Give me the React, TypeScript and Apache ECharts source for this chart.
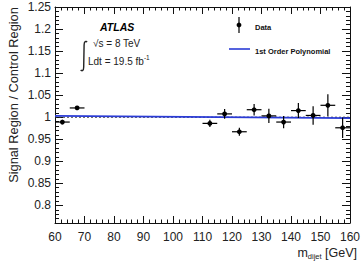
import React, { useEffect, useRef } from "react";
import * as echarts from "echarts";

const binCenters = [62.5, 67.5, 112.5, 117.5, 122.5, 127.5, 132.5, 137.5, 142.5, 147.5, 152.5, 157.5];
const ratios = [0.989, 1.021, 0.986, 1.0075, 0.967, 1.017, 1.003, 0.989, 1.015, 1.004, 1.027, 0.976];
const ratioErrors = [0.005, 0.004, 0.008, 0.011, 0.009, 0.013, 0.016, 0.014, 0.017, 0.021, 0.025, 0.023];
const binHalfWidth = 2.5;
const fitX = [60, 160];
const fitY = [1.003, 0.998];
const unityX = [60, 160];
const unityY = [1.0, 1.0];
const yMajorTicks = [0.8, 0.85, 0.9, 0.95, 1.0, 1.05, 1.1, 1.15, 1.2, 1.25];

const FONT = "Liberation Sans, Arial, Helvetica, sans-serif";
const Y_MIN = 0.76;
const Y_MAX = 1.25;

let registered = false;
function registerIntegral() {
  if (registered) return;
  registered = true;
  const d = "M6.5 1.2 C5.5 -0.3 3.6 0.2 3.6 4 L3.2 26 C3.2 29.8 1.3 30.6 0.3 28.8";
  echarts.graphic.registerShape("integralSign", echarts.graphic.extendPath(d, {}));
}

export default function App() {
  const ref = useRef<HTMLDivElement>(null);
  useEffect(() => {
    if (!ref.current) return;
    registerIntegral();
    const chart = echarts.init(ref.current, null, { renderer: "svg" });
    const axisColor = "#111";
    const baseY = {
      type: "value" as const,
      min: Y_MIN,
      max: Y_MAX,
      splitLine: { show: false },
    };
    const option: any = {
      animation: false,
      backgroundColor: "#fff",
      grid: { left: 55, right: 6, top: 7, bottom: 40, containLabel: false },
      xAxis: [
        {
          type: "value",
          min: 60,
          max: 160,
          interval: 10,
          position: "bottom",
          axisLine: { show: true, lineStyle: { color: axisColor, width: 1 } },
          axisTick: { show: true, inside: true, length: 7, lineStyle: { color: axisColor } },
          minorTick: { show: true, splitNumber: 5, length: 3.5, lineStyle: { color: axisColor } },
          axisLabel: { color: "#222", fontSize: 12, fontFamily: FONT, margin: 8, showMaxLabel: true },
          splitLine: { show: false },
          minorSplitLine: { show: false },
        },
        {
          type: "value",
          min: 60,
          max: 160,
          interval: 10,
          position: "top",
          axisLine: { show: true, lineStyle: { color: axisColor, width: 1 } },
          axisTick: { show: true, inside: true, length: 7, lineStyle: { color: axisColor } },
          minorTick: { show: true, splitNumber: 5, length: 3.5, lineStyle: { color: axisColor } },
          axisLabel: { show: false },
          splitLine: { show: false },
        },
      ],
      yAxis: [
        {
          ...baseY,
          position: "left",
          axisLine: { show: true, lineStyle: { color: axisColor, width: 1 } },
          axisTick: { show: true, inside: true, length: 8, customValues: yMajorTicks, lineStyle: { color: axisColor } },
          axisLabel: {
            color: "#222",
            fontSize: 12,
            fontFamily: FONT,
            margin: 4,
            customValues: yMajorTicks,
            formatter: (v: number) => String(parseFloat(v.toFixed(2))),
          },
        },
        {
          ...baseY,
          position: "left",
          interval: 0.01,
          axisLine: { show: false },
          axisTick: { show: true, inside: true, length: 4, lineStyle: { color: axisColor } },
          axisLabel: { show: false },
        },
        {
          ...baseY,
          position: "right",
          axisLine: { show: true, lineStyle: { color: axisColor, width: 1 } },
          axisTick: { show: true, inside: true, length: 8, customValues: yMajorTicks, lineStyle: { color: axisColor } },
          axisLabel: { show: false },
        },
        {
          ...baseY,
          position: "right",
          interval: 0.01,
          axisLine: { show: false },
          axisTick: { show: true, inside: true, length: 4, lineStyle: { color: axisColor } },
          axisLabel: { show: false },
        },
      ],
      series: [
        {
          type: "line",
          name: "unity",
          data: unityX.map((x, i) => [x, unityY[i]]),
          showSymbol: false,
          lineStyle: { color: "#333", width: 1, type: [2, 2] },
          z: 2,
        },
        {
          type: "line",
          name: "1st Order Polynomial",
          data: fitX.map((x, i) => [x, fitY[i]]),
          showSymbol: false,
          lineStyle: { color: "#2a3bd6", width: 1.6 },
          z: 3,
        },
        {
          type: "custom",
          name: "Data",
          data: binCenters.map((x, i) => [x, ratios[i], ratioErrors[i]]),
          encode: { x: 0, y: 1 },
          z: 4,
          renderItem: (params: any, api: any) => {
            const x = api.value(0);
            const y = api.value(1);
            const e = api.value(2);
            const c = api.coord([x, y]);
            const l = api.coord([Math.max(60, x - binHalfWidth), y]);
            const r = api.coord([Math.min(160, x + binHalfWidth), y]);
            const t = api.coord([x, y + e]);
            const b = api.coord([x, y - e]);
            return {
              type: "group",
              children: [
                { type: "line", shape: { x1: l[0], y1: l[1], x2: r[0], y2: r[1] }, style: { stroke: "#000", lineWidth: 1.2 } },
                { type: "line", shape: { x1: t[0], y1: t[1], x2: b[0], y2: b[1] }, style: { stroke: "#000", lineWidth: 1.2 } },
                { type: "circle", shape: { cx: c[0], cy: c[1], r: 2.4 }, style: { fill: "#000" } },
              ],
            };
          },
        },
      ],
      graphic: [
        {
          type: "text",
          x: 13,
          y: 95,
          rotation: Math.PI / 2,
          style: {
            text: "Signal Region / Control Region",
            fontSize: 12.8,
            fontFamily: FONT,
            fill: "#222",
            align: "center",
            verticalAlign: "middle",
          },
        },
        {
          type: "text",
          x: 357,
          y: 253,
          style: {
            text: "{m|m}{s|dijet}{m| [GeV]}",
            rich: {
              m: { fontSize: 12.5, fontFamily: FONT, fill: "#222" },
              s: { fontSize: 7.5, fontFamily: FONT, fill: "#222", padding: [7, 0, 0, 0] },
            },
            align: "right",
            verticalAlign: "middle",
          },
        },
        {
          type: "text",
          x: 100,
          y: 27,
          style: { text: "ATLAS", fontSize: 10.5, fontWeight: "bold", fontStyle: "italic", fontFamily: FONT, fill: "#000", verticalAlign: "middle" },
        },
        {
          type: "text",
          x: 93,
          y: 43,
          style: { text: "√s = 8 TeV", fontSize: 10, fontFamily: FONT, fill: "#222", verticalAlign: "middle" },
        },
        {
          type: "integralSign",
          x: 80.5,
          y: 41,
          style: { stroke: "#222", fill: "none", lineWidth: 1.4 },
        },
        {
          type: "text",
          x: 88,
          y: 61,
          style: {
            text: "{a|Ldt = 19.5 fb}{b|-1}",
            rich: {
              a: { fontSize: 10, fontFamily: FONT, fill: "#222" },
              b: { fontSize: 6.5, fontFamily: FONT, fill: "#222", padding: [0, 0, 7, 0] },
            },
            verticalAlign: "middle",
          },
        },
        { type: "line", shape: { x1: 239, y1: 17, x2: 239, y2: 33 }, style: { stroke: "#000", lineWidth: 1.2 } },
        { type: "circle", shape: { cx: 239, cy: 25, r: 2.4 }, style: { fill: "#000" } },
        {
          type: "text",
          x: 255,
          y: 27,
          style: { text: "Data", fontSize: 7.5, fontWeight: "bold", fontFamily: FONT, fill: "#111", verticalAlign: "middle" },
        },
        { type: "line", shape: { x1: 229, y1: 49, x2: 250, y2: 49 }, style: { stroke: "#2a3bd6", lineWidth: 1.6 } },
        {
          type: "text",
          x: 255,
          y: 51,
          style: { text: "1st Order Polynomial", fontSize: 7.5, fontWeight: "bold", fontFamily: FONT, fill: "#111", verticalAlign: "middle" },
        },
      ],
    };
    chart.setOption(option);
    return () => chart.dispose();
  }, []);
  return <div ref={ref} style={{ width: 363, height: 263, position: "absolute", left: 0, top: 0 }} />;
}
